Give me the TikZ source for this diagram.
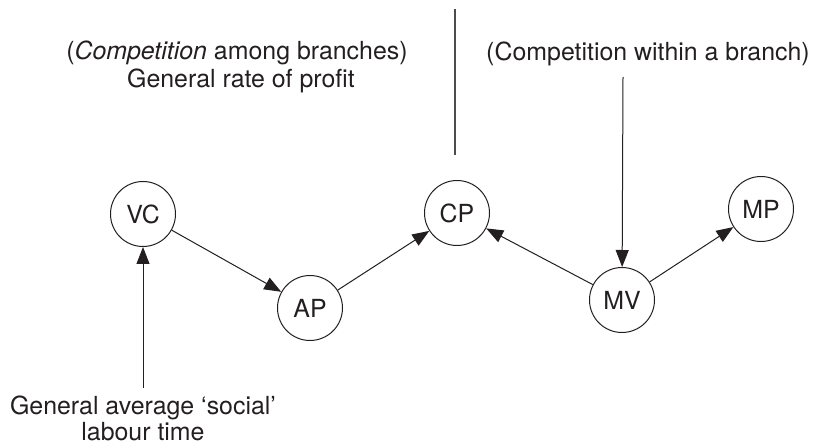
\documentclass[tikz,border=0pt]{standalone}
\usepackage{fontspec}
\setmainfont{TeX Gyre Heros}
\usetikzlibrary{arrows.meta}
\definecolor{ink}{HTML}{231F20}
\begin{document}
\begin{tikzpicture}[x=1bp,y=-1bp,
  every node/.style={text=ink,font=\fontsize{25}{29}\selectfont},
  state/.style={circle,draw=ink,line width=1bp,minimum size=65bp,inner sep=0pt},
  lbl/.style={anchor=base,inner sep=0pt},
  arr/.style={draw=ink,line width=1bp,-{Triangle[length=17bp,width=13bp]},shorten >=0pt},
  plain/.style={draw=black!70,line width=1.2bp}]
\useasboundingbox (0,0) rectangle (819,446);
% states
\node[state] (VC) at (143,214) {VC};
\node[state] (AP) at (310,308) {AP};
\node[state] (CP) at (457,213) {CP};
\node[state] (MV) at (622,300) {MV};
\node[state] (MP) at (761,209) {MP};
% labels
\node[lbl] (amongA) at (237,60) {(\textit{Competition} among branches)};
\node[lbl] (amongB) at (241,88) {General rate of profit};
\node[lbl] (within) at (648,61) {(Competition within a branch)};
\node[lbl] (socA) at (143,414) {General average ‘social’};
\node[lbl] (socB) at (143,440) {labour time};
% free ends
\coordinate (topA) at (455,9);
\coordinate (topB) at (455,155);
\coordinate (mvin) at (623,77);
\coordinate (vcin) at (143,388);
% connectors
\draw[plain] (topA) -- (topB);
\draw[arr] (VC) -- (AP);
\draw[arr] (AP) -- (CP);
\draw[arr] (MV) -- (CP);
\draw[arr] (MV) -- (MP);
\draw[arr] (mvin) -- (MV);
\draw[arr] (vcin) -- (VC);
\end{tikzpicture}
\end{document}
